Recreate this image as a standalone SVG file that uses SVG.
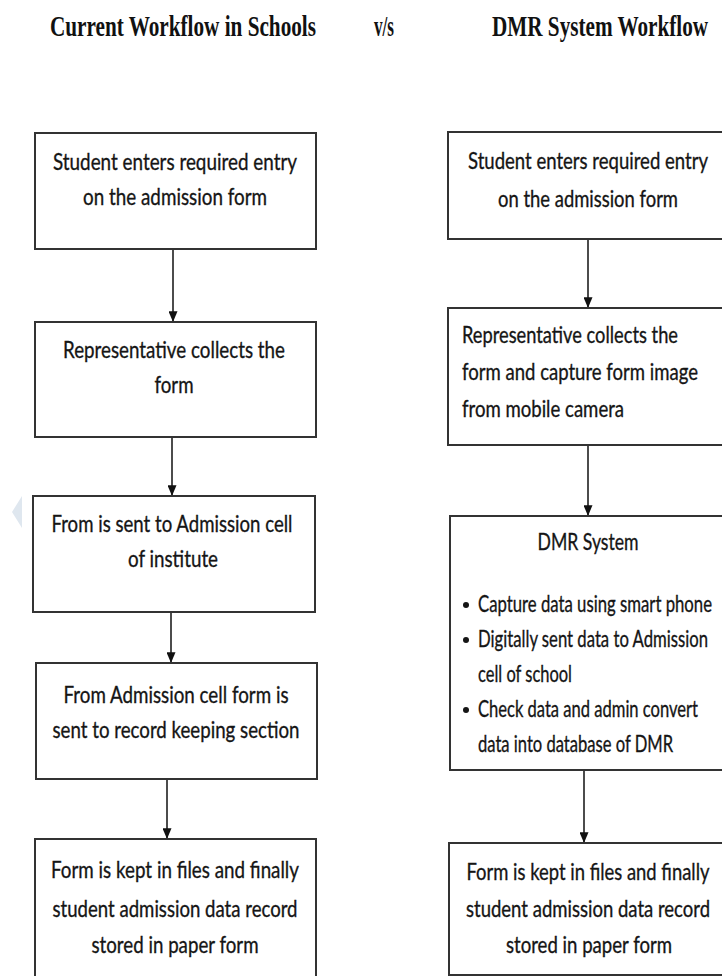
<svg xmlns="http://www.w3.org/2000/svg" width="722" height="976" viewBox="0 0 722 976">
<defs>
<style>
.box{fill:#fff;stroke:#333;stroke-width:2}
.t{font-family:Lato,"Open Sans","DejaVu Sans",sans-serif;font-size:24px;fill:#151515;stroke:#151515;stroke-width:0.35}
.c{text-anchor:middle}
.h{font-family:"Liberation Serif","Times New Roman",serif;font-weight:bold;font-size:30px;fill:#111}
.ln{stroke:#111;stroke-width:1.5;fill:none}
</style>
<marker id="ah" viewBox="0 0 12 10" refX="12" refY="5" markerWidth="12" markerHeight="9" markerUnits="userSpaceOnUse" orient="auto">
<path d="M0,0 L12,5 L0,10 z" fill="#111"/>
</marker>
</defs>
<rect width="722" height="976" fill="#fff"/>
<polygon points="12,512 22,496 22,528" fill="#dfe7ef"/>
<g id="titles">
<text class="h" transform="translate(50,36) scale(0.7,1)" x="0" y="0" textLength="380" lengthAdjust="spacingAndGlyphs">Current Workflow in Schools</text>
<text class="h" transform="translate(374,36) scale(0.7,1)" x="0" y="0" textLength="28.6" lengthAdjust="spacingAndGlyphs">v/s</text>
<text class="h" transform="translate(492,36) scale(0.7,1)" x="0" y="0" textLength="308.6" lengthAdjust="spacingAndGlyphs">DMR System Workflow</text>
</g>
<g id="connectors">
<line class="ln" x1="173" y1="249" x2="173" y2="322" marker-end="url(#ah)"/>
<line class="ln" x1="172" y1="437" x2="172" y2="496" marker-end="url(#ah)"/>
<line class="ln" x1="171" y1="612" x2="171" y2="663" marker-end="url(#ah)"/>
<line class="ln" x1="167" y1="779" x2="167" y2="839" marker-end="url(#ah)"/>
<line class="ln" x1="588" y1="239" x2="588" y2="308" marker-end="url(#ah)"/>
<line class="ln" x1="588" y1="445" x2="588" y2="516" marker-end="url(#ah)"/>
<line class="ln" x1="584" y1="770" x2="584" y2="843" marker-end="url(#ah)"/>
</g>
<g id="L1">
<rect class="box" x="35" y="133" width="281" height="116"/>
<text class="t c" transform="translate(175,170) scale(0.82,1)" textLength="297.6" lengthAdjust="spacingAndGlyphs">Student enters required entry</text>
<text class="t c" transform="translate(175,205) scale(0.82,1)" textLength="224.4" lengthAdjust="spacingAndGlyphs">on the admission form</text>
</g>
<g id="L2">
<rect class="box" x="35" y="322" width="281" height="115"/>
<text class="t c" transform="translate(174,358) scale(0.82,1)" textLength="270.7" lengthAdjust="spacingAndGlyphs">Representative collects the</text>
<text class="t c" transform="translate(174,393) scale(0.82,1)" textLength="47.6" lengthAdjust="spacingAndGlyphs">form</text>
</g>
<g id="L3">
<rect class="box" x="33" y="496" width="282" height="116"/>
<text class="t c" transform="translate(172,532) scale(0.82,1)" textLength="293.9" lengthAdjust="spacingAndGlyphs">From is sent to Admission cell</text>
<text class="t c" transform="translate(173,567) scale(0.82,1)" textLength="109.8" lengthAdjust="spacingAndGlyphs">of institute</text>
</g>
<g id="L4">
<rect class="box" x="36" y="663" width="281" height="116"/>
<text class="t c" transform="translate(176,703) scale(0.82,1)" textLength="274.4" lengthAdjust="spacingAndGlyphs">From Admission cell form is</text>
<text class="t c" transform="translate(176,738) scale(0.82,1)" textLength="301.2" lengthAdjust="spacingAndGlyphs">sent to record keeping section</text>
</g>
<g id="L5">
<rect class="box" x="35" y="839" width="281" height="150"/>
<text class="t c" transform="translate(175,878) scale(0.82,1)" textLength="302.4" lengthAdjust="spacingAndGlyphs">Form is kept in files and finally</text>
<text class="t c" transform="translate(175,917) scale(0.82,1)" textLength="298.8" lengthAdjust="spacingAndGlyphs">student admission data record</text>
<text class="t c" transform="translate(175,953) scale(0.82,1)" textLength="203.7" lengthAdjust="spacingAndGlyphs">stored in paper form</text>
</g>
<g id="R1">
<rect class="box" x="448" y="132" width="290" height="107"/>
<text class="t c" transform="translate(588,169) scale(0.76,1)" textLength="315.8" lengthAdjust="spacingAndGlyphs">Student enters required entry</text>
<text class="t c" transform="translate(588,207) scale(0.76,1)" textLength="236.8" lengthAdjust="spacingAndGlyphs">on the admission form</text>
</g>
<g id="R2">
<rect class="box" x="448" y="308" width="290" height="137"/>
<text class="t" transform="translate(462,343) scale(0.76,1)" textLength="284.2" lengthAdjust="spacingAndGlyphs">Representative collects the</text>
<text class="t" transform="translate(462,380) scale(0.76,1)" textLength="310.5" lengthAdjust="spacingAndGlyphs">form and capture form image</text>
<text class="t" transform="translate(462,417) scale(0.76,1)" textLength="213.2" lengthAdjust="spacingAndGlyphs">from mobile camera</text>
</g>
<g id="R3">
<rect class="box" x="450" y="516" width="290" height="254"/>
<text class="t c" transform="translate(588,550) scale(0.76,1)" textLength="132.9" lengthAdjust="spacingAndGlyphs">DMR System</text>
<circle cx="466" cy="605" r="3" fill="#151515"/>
<text class="t" transform="translate(478,612) scale(0.7,1)" textLength="334.3" lengthAdjust="spacingAndGlyphs">Capture data using smart phone</text>
<circle cx="466" cy="640" r="3" fill="#151515"/>
<text class="t" transform="translate(478,647) scale(0.7,1)" textLength="328.6" lengthAdjust="spacingAndGlyphs">Digitally sent data to Admission</text>
<text class="t" transform="translate(478,682) scale(0.76,1)" textLength="123.7" lengthAdjust="spacingAndGlyphs">cell of school</text>
<circle cx="466" cy="710" r="3" fill="#151515"/>
<text class="t" transform="translate(478,717) scale(0.76,1)" textLength="289.5" lengthAdjust="spacingAndGlyphs">Check data and admin convert</text>
<text class="t" transform="translate(478,752) scale(0.76,1)" textLength="256.6" lengthAdjust="spacingAndGlyphs">data into database of DMR</text>
</g>
<g id="R4">
<rect class="box" x="449" y="843" width="290" height="132"/>
<text class="t c" transform="translate(588,880) scale(0.76,1)" textLength="319.7" lengthAdjust="spacingAndGlyphs">Form is kept in files and finally</text>
<text class="t c" transform="translate(588,917) scale(0.76,1)" textLength="321.1" lengthAdjust="spacingAndGlyphs">student admission data record</text>
<text class="t c" transform="translate(589,953) scale(0.76,1)" textLength="218.4" lengthAdjust="spacingAndGlyphs">stored in paper form</text>
</g>
</svg>
